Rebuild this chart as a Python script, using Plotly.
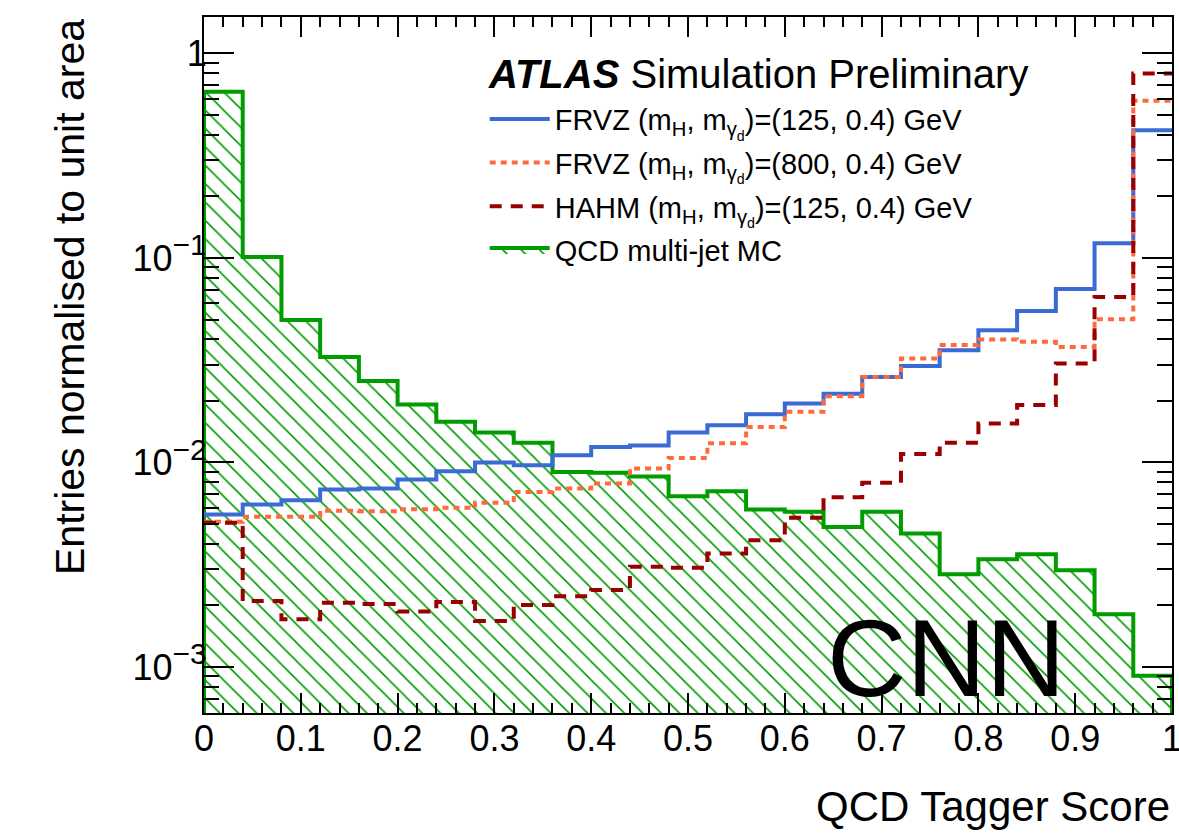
import plotly.graph_objects as go

# ---- data ----
bin_edges = [round(0.04 * i, 2) for i in range(26)]

frvz_125 = [0.00557, 0.00623, 0.00654, 0.00738, 0.00746, 0.00826, 0.00906, 0.0100, 0.0097, 0.01086,
            0.0119, 0.0121, 0.0140, 0.0152, 0.0172, 0.0194, 0.0217, 0.0262, 0.0296, 0.0354,
            0.0443, 0.0550, 0.0704, 0.118, 0.421]
frvz_800 = [0.00513, 0.00542, 0.00542, 0.00580, 0.00578, 0.00590, 0.00600, 0.00635, 0.00718, 0.00746,
            0.0079, 0.00935, 0.0105, 0.0124, 0.0149, 0.0177, 0.0211, 0.0262, 0.0322, 0.0375,
            0.0399, 0.0389, 0.0367, 0.0502, 0.587]
hahm_125 = [0.00507, 0.00210, 0.00171, 0.00206, 0.00203, 0.00187, 0.00208, 0.00168, 0.00201, 0.00222,
            0.00238, 0.00309, 0.00306, 0.00359, 0.00417, 0.00536, 0.00675, 0.00795, 0.0110, 0.0125,
            0.0155, 0.0191, 0.0305, 0.0645, 0.798]
qcd = [0.649, 0.101, 0.0497, 0.0328, 0.0250, 0.0192, 0.0158, 0.0140, 0.0125, 0.00897,
       0.0089, 0.00853, 0.00684, 0.00724, 0.00589, 0.00574, 0.00484, 0.00574, 0.00450, 0.00284,
       0.00336, 0.00356, 0.00297, 0.00181, 0.000905]

x_tick_vals = [0, 0.1, 0.2, 0.3, 0.4, 0.5, 0.6, 0.7, 0.8, 0.9, 1.0]
x_tick_text = ["0", "0.1", "0.2", "0.3", "0.4", "0.5", "0.6", "0.7", "0.8", "0.9", "1"]
y_tick_vals = [1e-3, 1e-2, 1e-1, 1]
SUP = "<sup><span style='font-size:30px'>%s</span></sup>"
y_tick_text = ["10" + SUP % "\u22123", "10" + SUP % "\u22122", "10" + SUP % "\u22121", "1"]

names = [
    "FRVZ (m<sub>H</sub>, m<sub>\u03b3<sub>d</sub></sub>)=(125, 0.4) GeV",
    "FRVZ (m<sub>H</sub>, m<sub>\u03b3<sub>d</sub></sub>)=(800, 0.4) GeV",
    "HAHM (m<sub>H</sub>, m<sub>\u03b3<sub>d</sub></sub>)=(125, 0.4) GeV",
    "QCD multi-jet MC",
]

BLUE = "#3a6bd5"
ORANGE = "#ff6a3d"
RED = "#990000"
GREEN = "#009c00"
FONT = "Liberation Sans, Arial, Helvetica, sans-serif"

def step_xy(vals):
    return bin_edges[:-1] + [bin_edges[-1]], list(vals) + [vals[-1]]

fig = go.Figure()

# QCD hatched histogram
ybot = 1e-5
qx, qy = step_xy(qcd)
fig.add_trace(go.Scatter(
    x=[bin_edges[0]] + qx + [bin_edges[-1]],
    y=[ybot] + qy + [ybot],
    mode="lines", line=dict(color=GREEN, width=4, shape="hv"),
    fill="toself", fillcolor="rgba(255,255,255,0)",
    fillpattern=dict(shape="\\", fgcolor=GREEN, fgopacity=1, bgcolor="rgba(255,255,255,0)",
                     size=13, solidity=0.12),
    name=names[3], legendrank=4, legendgroup="g4",
))

for vals, col, dash, nm, rk in [
    (frvz_125, BLUE, "solid", names[0], 1),
    (frvz_800, ORANGE, "6px,5px", names[1], 2),
    (hahm_125, RED, "12px,9px", names[2], 3),
]:
    sx, sy = step_xy(vals)
    fig.add_trace(go.Scatter(x=sx, y=sy, mode="lines",
                             line=dict(color=col, width=4, shape="hv", dash=dash),
                             name=nm, legendrank=rk, legendgroup="g%d" % rk))

fig.update_layout(
    width=1179, height=836,
    margin=dict(l=204, r=7, t=17, b=123),
    paper_bgcolor="white", plot_bgcolor="white",
    font=dict(family=FONT, size=36, color="black"),
    showlegend=True,
    legend=dict(x=0.29, y=0.89, xanchor="left", yanchor="top",
                bgcolor="rgba(0,0,0,0)", font=dict(size=29, family=FONT),
                itemwidth=60, tracegroupgap=3),
    xaxis=dict(range=[0, 1], tickmode="array", tickvals=x_tick_vals, ticktext=x_tick_text,
               showgrid=False, zeroline=False, ticklabeloverflow="allow", automargin=False,
               showline=True, linecolor="black", linewidth=2, mirror="allticks",
               ticks="inside", ticklen=20, tickwidth=1.5, tickcolor="black",
               tickfont=dict(size=36), ticklabelstandoff=-7,
               minor=dict(tickmode="linear", tick0=0, dtick=0.02, ticks="inside", ticklen=10,
                          tickwidth=1.5, tickcolor="black", showgrid=False)),
    yaxis=dict(type="log", range=[-3.225, 0.178], tickmode="array", automargin=False,
               tickvals=y_tick_vals, ticktext=y_tick_text, showgrid=False, zeroline=False,
               showline=True, linecolor="black", linewidth=2, mirror="allticks",
               ticks="inside", ticklen=30, tickwidth=1.5, tickcolor="black",
               tickfont=dict(size=36), ticklabelstandoff=-12,
               minor=dict(dtick="D1", ticks="inside", ticklen=15, tickwidth=1.5, tickcolor="black", showgrid=False)),
)

fig.add_annotation(text="<b><i>ATLAS</i></b> Simulation Preliminary", xref="paper", yref="paper",
                   x=(486 - 204) / 968, y=(713 - 74) / 696, xanchor="left", yanchor="middle",
                   showarrow=False, font=dict(size=40, family=FONT))
fig.add_annotation(text="CNN", xref="paper", yref="paper",
                   x=(946 - 204) / 968, y=(713 - 657) / 696, xanchor="center", yanchor="middle",
                   showarrow=False, font=dict(size=110, family=FONT))
fig.add_annotation(text="QCD Tagger Score", xref="paper", yref="paper",
                   x=1.0, y=(713 - 806) / 696, xanchor="right", yanchor="middle",
                   showarrow=False, font=dict(size=42, family=FONT))
fig.add_annotation(text="Entries normalised to unit area", xref="paper", yref="paper",
                   x=(70 - 204) / 968, y=1.0, xanchor="center", yanchor="top", textangle=-90,
                   showarrow=False, font=dict(size=41, family=FONT))

fig.write_html("out.html")
